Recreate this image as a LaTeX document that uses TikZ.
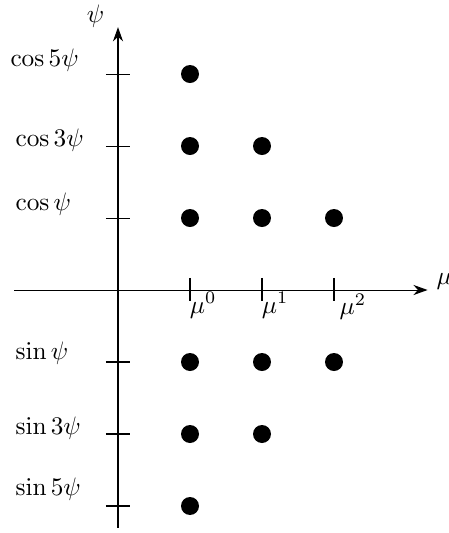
\documentclass[tikz,border=0pt]{standalone}
\usetikzlibrary{arrows.meta}
\begin{document}
\begin{tikzpicture}[
  axis/.style={line width=0.4pt,-{Stealth[length=5.6pt,width=4pt,inset=1.8pt]}},
  tick/.style={line width=0.4pt},
  dot/.style={circle,fill=black,inner sep=0pt,minimum size=0.25cm},
  lab/.style={anchor=base west,inner sep=0pt}
]
\useasboundingbox (-1.639,-3.375) rectangle (4.597,4.028);
% axes
\coordinate (yb) at (0,-3.30);
\coordinate (yt) at (0,3.65);
\coordinate (xl) at (-1.44,0);
\coordinate (xr) at (4.30,0);
\draw[axis] (xl) -- (xr);
\draw[axis] (yb) -- (yt);
\node[inner sep=0pt] (psilab) at (-0.31,3.80) {$\psi$};
\node[lab] (mulab) at (4.42,0.08) {$\mu$};
% vertical ticks
\foreach \y/\n in {3/a,2/b,1/c,-1/d,-2/e,-3/f}{
  \coordinate (vt\n l) at (-0.167,\y);
  \coordinate (vt\n r) at (0.167,\y);
  \draw[tick] (vt\n l) -- (vt\n r);
}
% horizontal ticks
\foreach \x/\n in {1/a,2/b,3/c}{
  \coordinate (ht\n t) at (\x,0.167);
  \coordinate (ht\n b) at (\x,-0.15);
  \draw[tick] (ht\n t) -- (ht\n b);
}
\node[lab] (m0) at (0.99,-0.32) {$\mu^0$};
\node[lab] (m1) at (1.99,-0.32) {$\mu^1$};
\node[lab] (m2) at (3.07,-0.34) {$\mu^2$};
% left labels
\node[lab] (c5) at (-1.50,3.10) {$\cos 5\psi$};
\node[lab] (c3) at (-1.43,2.00) {$\cos 3\psi$};
\node[lab] (c1) at (-1.43,1.10) {$\cos \psi$};
\node[lab] (s1) at (-1.43,-0.97) {$\sin \psi$};
\node[lab] (s3) at (-1.43,-2.01) {$\sin 3\psi$};
\node[lab] (s5) at (-1.43,-2.86) {$\sin 5\psi$};
% dots
\node[dot] (d15) at (1,3) {};
\node[dot] (d13) at (1,2) {};
\node[dot] (d23) at (2,2) {};
\node[dot] (d11) at (1,1) {};
\node[dot] (d21) at (2,1) {};
\node[dot] (d31) at (3,1) {};
\node[dot] (e11) at (1,-1) {};
\node[dot] (e21) at (2,-1) {};
\node[dot] (e31) at (3,-1) {};
\node[dot] (e13) at (1,-2) {};
\node[dot] (e23) at (2,-2) {};
\node[dot] (e15) at (1,-3) {};
\end{tikzpicture}
\end{document}
